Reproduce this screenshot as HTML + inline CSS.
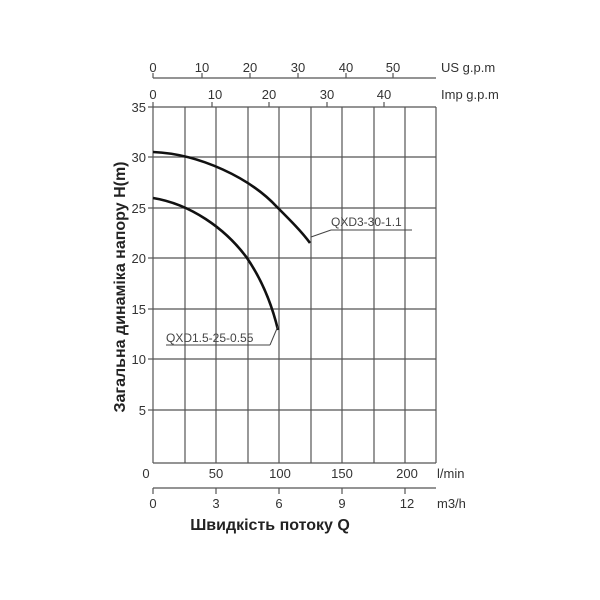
<!DOCTYPE html>
<html><head><meta charset="utf-8"><style>
html,body{margin:0;padding:0;background:#fff;}
svg{display:block;font-family:"Liberation Sans","DejaVu Sans",sans-serif;}
</style></head><body>
<svg width="600" height="600" viewBox="0 0 600 600" xmlns="http://www.w3.org/2000/svg">
<g stroke="#555" stroke-width="1.2" fill="none">
<!-- grid verticals -->
<line x1="153" y1="107" x2="153" y2="463"/>
<line x1="185" y1="107" x2="185" y2="463"/>
<line x1="216" y1="107" x2="216" y2="463"/>
<line x1="248" y1="107" x2="248" y2="463"/>
<line x1="279" y1="107" x2="279" y2="463"/>
<line x1="311" y1="107" x2="311" y2="463"/>
<line x1="342" y1="107" x2="342" y2="463"/>
<line x1="374" y1="107" x2="374" y2="463"/>
<line x1="405" y1="107" x2="405" y2="463"/>
<line x1="436" y1="107" x2="436" y2="463"/>
<!-- horizontals -->
<line x1="153" y1="107" x2="436" y2="107"/>
<line x1="153" y1="157" x2="436" y2="157"/>
<line x1="153" y1="208" x2="436" y2="208"/>
<line x1="153" y1="258" x2="436" y2="258"/>
<line x1="153" y1="309" x2="436" y2="309"/>
<line x1="153" y1="359" x2="436" y2="359"/>
<line x1="153" y1="410" x2="436" y2="410"/>
<line x1="153" y1="463" x2="436" y2="463"/>
<!-- y ticks -->
<line x1="148" y1="107" x2="153" y2="107"/><line x1="148" y1="157" x2="153" y2="157"/>
<line x1="148" y1="208" x2="153" y2="208"/><line x1="148" y1="258" x2="153" y2="258"/>
<line x1="148" y1="309" x2="153" y2="309"/><line x1="148" y1="359" x2="153" y2="359"/>
<line x1="148" y1="410" x2="153" y2="410"/>
<!-- Imp ticks -->
<line x1="153" y1="102" x2="153" y2="107"/><line x1="212" y1="102" x2="212" y2="107"/>
<line x1="269" y1="102" x2="269" y2="107"/><line x1="327" y1="102" x2="327" y2="107"/>
<line x1="384" y1="102" x2="384" y2="107"/>
<!-- US axis -->
<line x1="153" y1="78" x2="436" y2="78"/>
<line x1="153" y1="73" x2="153" y2="78"/><line x1="202" y1="73" x2="202" y2="78"/>
<line x1="250" y1="73" x2="250" y2="78"/><line x1="298" y1="73" x2="298" y2="78"/>
<line x1="346" y1="73" x2="346" y2="78"/><line x1="393" y1="73" x2="393" y2="78"/>
<!-- m3/h axis -->
<line x1="153" y1="488" x2="436" y2="488"/>
<line x1="153" y1="488" x2="153" y2="494"/><line x1="216" y1="488" x2="216" y2="494"/>
<line x1="279" y1="488" x2="279" y2="494"/><line x1="342" y1="488" x2="342" y2="494"/>
<line x1="405" y1="488" x2="405" y2="494"/>
</g>
<!-- curves -->
<g stroke="#111" stroke-width="2.6" fill="none">
<path d="M153,152 C200,154 250,178 277,207 C290,220 302,232 310,243"/>
<path d="M153,198 C190,204 225,228 247,258 C262,280 272,305 278,330"/>
</g>
<!-- labels leaders -->
<g stroke="#444" stroke-width="1" fill="none">
<line x1="331" y1="230" x2="412" y2="230"/>
<line x1="331" y1="230" x2="311" y2="237"/>
<line x1="166" y1="345" x2="270" y2="345"/>
<line x1="270" y1="345" x2="278" y2="326"/>
</g>
<g font-size="12" fill="#444">
<text x="331" y="226">QXD3-30-1.1</text>
<text x="166" y="342">QXD1.5-25-0.55</text>
</g>
<g font-size="13" fill="#333" text-anchor="middle">
<text x="153" y="72">0</text><text x="202" y="72">10</text><text x="250" y="72">20</text>
<text x="298" y="72">30</text><text x="346" y="72">40</text><text x="393" y="72">50</text>
<text x="153" y="99">0</text><text x="215" y="99">10</text><text x="269" y="99">20</text>
<text x="327" y="99">30</text><text x="384" y="99">40</text>
<text x="146" y="478">0</text><text x="216" y="478">50</text><text x="280" y="478">100</text>
<text x="342" y="478">150</text><text x="407" y="478">200</text>
<text x="153" y="508">0</text><text x="216" y="508">3</text><text x="279" y="508">6</text>
<text x="342" y="508">9</text><text x="407" y="508">12</text>
</g>
<g font-size="13" fill="#333" text-anchor="end">
<text x="146" y="112">35</text><text x="146" y="162">30</text><text x="146" y="213">25</text>
<text x="146" y="263">20</text><text x="146" y="314">15</text><text x="146" y="364">10</text>
<text x="146" y="415">5</text>
</g>
<g font-size="13" fill="#333">
<text x="441" y="72">US g.p.m</text>
<text x="441" y="99">Imp g.p.m</text>
<text x="437" y="478">l/min</text>
<text x="437" y="508">m3/h</text>
</g>
<text x="270" y="530" font-size="16" font-weight="bold" fill="#222" text-anchor="middle">Швидкість потоку Q</text>
<text transform="translate(125,287) rotate(-90)" font-size="16" font-weight="bold" fill="#222" text-anchor="middle">Загальна динаміка напору H(m)</text>
</svg>
</body></html>
